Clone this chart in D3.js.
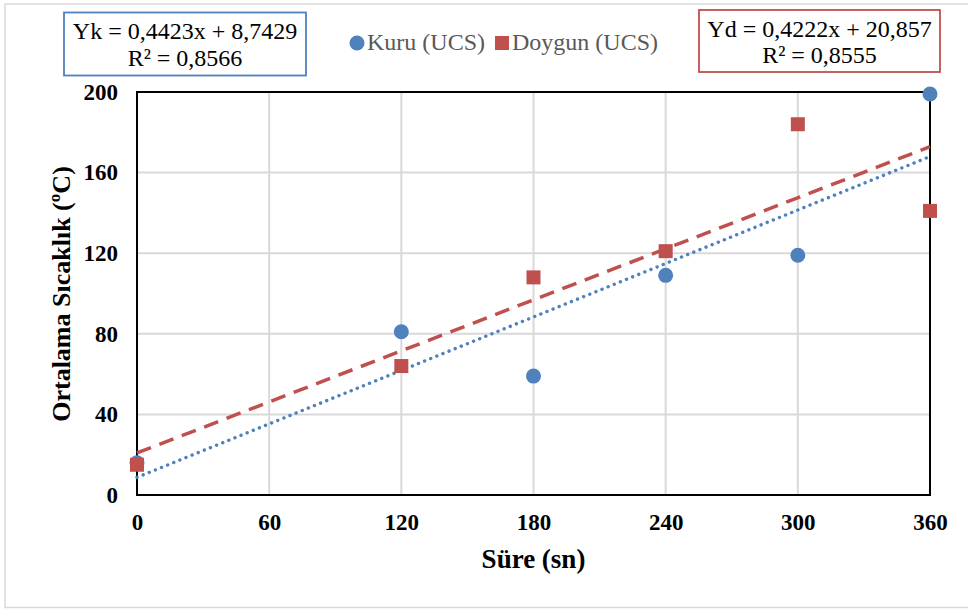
<!DOCTYPE html>
<html>
<head>
<meta charset="utf-8">
<script src="https://cdn.jsdelivr.net/npm/d3@7/dist/d3.min.js"></script>
<style>
  html, body { margin: 0; padding: 0; background: #fff; }
  svg { display: block; }
  svg text { font-family: "Liberation Serif", "Times New Roman", serif; }
</style>
</head>
<body>
<script>
// Time (s) and measured average temperature (°C)
const sure = [0, 120, 180, 240, 300, 360];
const kuru = [16, 81, 59, 109, 119, 199];
const doygun = [15, 64, 108, 121, 184, 141];

// Linear trend coefficients
const kuruFit = { slope: 0.4423, intercept: 8.7429, r2: "0,8566", label: "Yk = 0,4423x + 8,7429" };
const doygunFit = { slope: 0.4222, intercept: 20.857, r2: "0,8555", label: "Yd = 0,4222x + 20,857" };

const xTicks = [0, 60, 120, 180, 240, 300, 360];
const yTicks = [0, 40, 80, 120, 160, 200];

const W = 968, H = 610;
const margin = { left: 137, right: 38, top: 92, bottom: 115 };
const FONT = "Liberation Serif";
const BLUE = "#4f81bd", RED = "#c0504d";

const svg = d3.select("body").append("svg").attr("width", W).attr("height", H)
  .attr("font-family", FONT);

// chart frame
svg.append("rect").attr("x", 5).attr("y", 4).attr("width", W + 10).attr("height", 603.5)
  .attr("fill", "#fff").attr("stroke", "#d9d9d9").attr("stroke-width", 1.5);

const x = d3.scaleLinear().domain([0, 360]).range([margin.left, W - margin.right]);
const y = d3.scaleLinear().domain([0, 200]).range([H - margin.bottom, margin.top]);

// gridlines
svg.append("g").selectAll("line").data(xTicks.slice(1, -1)).join("line")
  .attr("x1", d => x(d)).attr("x2", d => x(d)).attr("y1", y(0)).attr("y2", y(200))
  .attr("stroke", "#d9d9d9").attr("stroke-width", 2);
svg.append("g").selectAll("line").data(yTicks.slice(1, -1)).join("line")
  .attr("x1", x(0)).attr("x2", x(360)).attr("y1", d => y(d)).attr("y2", d => y(d))
  .attr("stroke", "#d9d9d9").attr("stroke-width", 2);

// plot box
svg.append("rect").attr("x", x(0)).attr("y", y(200))
  .attr("width", x(360) - x(0)).attr("height", y(0) - y(200))
  .attr("fill", "none").attr("stroke", "#000").attr("stroke-width", 2);

// axes (labels only)
const xAxis = svg.append("g").attr("transform", `translate(0,${y(0)})`)
  .call(d3.axisBottom(x).tickValues(xTicks).tickSize(0).tickPadding(19));
const yAxis = svg.append("g").attr("transform", `translate(${x(0)},0)`)
  .call(d3.axisLeft(y).tickValues(yTicks).tickSize(0).tickPadding(19));
[xAxis, yAxis].forEach(a => {
  a.attr("font-family", FONT);
  a.select(".domain").remove();
  a.selectAll("text").attr("font-family", FONT).attr("font-size", 23)
    .attr("font-weight", "bold").attr("fill", "#000");
});

// trend lines
const trend = fit => d3.line().x(d => x(d)).y(d => y(fit.slope * d + fit.intercept));
svg.append("path").datum([0, 360]).attr("d", trend(kuruFit))
  .attr("fill", "none").attr("stroke", BLUE).attr("stroke-width", 3.4)
  .attr("stroke-linecap", "round").attr("stroke-dasharray", "0.1 6.5");
svg.append("path").datum([0, 360]).attr("d", trend(doygunFit))
  .attr("fill", "none").attr("stroke", RED).attr("stroke-width", 3.5)
  .attr("stroke-dasharray", "15 9");

// markers
svg.append("g").selectAll("circle").data(sure).join("circle")
  .attr("cx", d => x(d)).attr("cy", (d, i) => y(kuru[i])).attr("r", 7.5)
  .attr("fill", BLUE);
svg.append("g").selectAll("rect").data(sure).join("rect")
  .attr("x", d => x(d) - 7).attr("y", (d, i) => y(doygun[i]) - 7)
  .attr("width", 14).attr("height", 14).attr("fill", RED);

// axis titles
svg.append("text").attr("x", (x(0) + x(360)) / 2).attr("y", 568)
  .attr("text-anchor", "middle").attr("font-size", 27).attr("font-weight", "bold")
  .attr("font-family", FONT).text("Süre (sn)");
svg.append("text").attr("transform", `translate(70,294) rotate(-90)`)
  .attr("text-anchor", "middle").attr("font-size", 26).attr("font-weight", "bold")
  .attr("font-family", FONT).text("Ortalama Sıcaklık (ºC)");

// legend
const leg = svg.append("g").attr("font-family", FONT);
leg.append("circle").attr("cx", 357).attr("cy", 43).attr("r", 7.5).attr("fill", BLUE);
leg.append("text").attr("x", 367).attr("y", 50).attr("font-size", 24).attr("fill", "#595959")
  .attr("font-family", FONT).text("Kuru (UCS)");
leg.append("rect").attr("x", 495).attr("y", 36).attr("width", 14).attr("height", 14).attr("fill", RED);
leg.append("text").attr("x", 512).attr("y", 50).attr("font-size", 24).attr("fill", "#595959")
  .attr("font-family", FONT).text("Doygun (UCS)");

// equation boxes
function eqBox(fit, bx, by, bw, bh, color) {
  const g = svg.append("g").attr("font-family", FONT);
  g.append("rect").attr("x", bx).attr("y", by).attr("width", bw).attr("height", bh)
    .attr("fill", "#fff").attr("stroke", color).attr("stroke-width", 1.8);
  g.append("text").attr("x", bx + bw / 2).attr("y", by + 26.5).attr("text-anchor", "middle")
    .attr("font-size", 24).attr("fill", "#000").attr("font-family", FONT).text(fit.label);
  g.append("text").attr("x", bx + bw / 2).attr("y", by + 53).attr("text-anchor", "middle")
    .attr("font-size", 24).attr("fill", "#000").attr("font-family", FONT).text("R² = " + fit.r2);
}
eqBox(kuruFit, 64, 12.5, 242, 63, BLUE);
eqBox(doygunFit, 699, 10, 241, 62, RED);
</script>
</body>
</html>
